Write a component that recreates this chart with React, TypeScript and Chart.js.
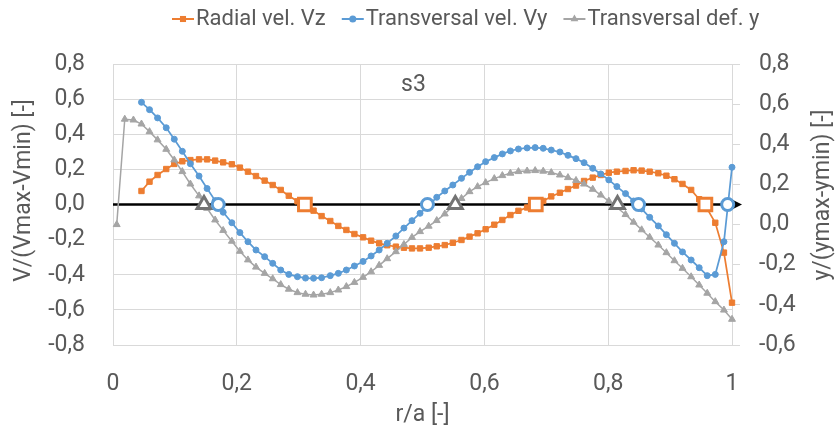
import React, { useEffect, useRef } from "react";
import { Chart, registerables } from "chart.js";

Chart.register(...registerables);

// r/a positions of the computed points
const rA = [
  0.006, 0.019, 0.033, 0.046, 0.059, 0.072, 0.086, 0.099, 0.112, 0.125,
  0.139, 0.152, 0.165, 0.178, 0.192, 0.205, 0.218, 0.231, 0.245, 0.258,
  0.271, 0.284, 0.298, 0.311, 0.324, 0.337, 0.351, 0.364, 0.377, 0.39,
  0.404, 0.417, 0.43, 0.443, 0.457, 0.47, 0.483, 0.496, 0.51, 0.523,
  0.536, 0.549, 0.563, 0.576, 0.589, 0.602, 0.616, 0.629, 0.642, 0.655,
  0.669, 0.682, 0.695, 0.708, 0.722, 0.735, 0.748, 0.761, 0.775, 0.788,
  0.801, 0.814, 0.828, 0.841, 0.854, 0.867, 0.881, 0.894, 0.907, 0.92,
  0.934, 0.947, 0.96, 0.973, 0.987, 1.0,
];

// Radial vel. Vz  (left axis)
const radialVz = [
  null, null, null, 0.077, 0.13, 0.168, 0.202, 0.231, 0.246, 0.253,
  0.257, 0.257, 0.25, 0.24, 0.229, 0.21, 0.187, 0.162, 0.136, 0.111,
  0.083, 0.05, 0.018, -0.008, -0.035, -0.066, -0.094, -0.122, -0.145, -0.168,
  -0.187, -0.206, -0.221, -0.232, -0.24, -0.246, -0.25, -0.25, -0.246, -0.238,
  -0.231, -0.218, -0.202, -0.183, -0.164, -0.141, -0.115, -0.088, -0.06, -0.036,
  -0.017, 0.0, 0.02, 0.046, 0.067, 0.088, 0.108, 0.134, 0.153, 0.168,
  0.181, 0.187, 0.191, 0.195, 0.193, 0.187, 0.178, 0.164, 0.144, 0.117,
  0.083, 0.03, -0.025, -0.104, -0.274, -0.559,
];

// Transversal vel. Vy  (left axis)
const transVy = [
  null, null, null, 0.582, 0.54, 0.493, 0.437, 0.372, 0.303, 0.232,
  0.162, 0.091, 0.022, -0.044, -0.104, -0.16, -0.212, -0.259, -0.297, -0.335,
  -0.373, -0.398, -0.411, -0.419, -0.42, -0.417, -0.405, -0.392, -0.373, -0.35,
  -0.324, -0.293, -0.259, -0.221, -0.179, -0.134, -0.092, -0.05, -0.005, 0.041,
  0.077, 0.111, 0.149, 0.183, 0.215, 0.244, 0.267, 0.288, 0.305, 0.316,
  0.322, 0.324, 0.32, 0.31, 0.299, 0.28, 0.261, 0.238, 0.206, 0.174,
  0.14, 0.102, 0.062, 0.02, -0.025, -0.073, -0.122, -0.172, -0.221, -0.27,
  -0.316, -0.36, -0.405, -0.398, -0.212, 0.212,
];

// Transversal def. y  (right axis)
const transDefY = [
  0.0, 0.525, 0.521, 0.501, 0.463, 0.422, 0.375, 0.322, 0.264, 0.202,
  0.143, 0.081, 0.023, -0.029, -0.083, -0.133, -0.176, -0.212, -0.243, -0.27,
  -0.299, -0.322, -0.339, -0.347, -0.351, -0.347, -0.339, -0.326, -0.309, -0.288,
  -0.263, -0.235, -0.203, -0.17, -0.135, -0.099, -0.064, -0.035, -0.008, 0.02,
  0.053, 0.092, 0.13, 0.164, 0.189, 0.209, 0.229, 0.244, 0.256, 0.264,
  0.267, 0.269, 0.266, 0.259, 0.247, 0.234, 0.22, 0.202, 0.176, 0.147,
  0.117, 0.085, 0.05, 0.012, -0.026, -0.063, -0.102, -0.14, -0.18, -0.218,
  -0.26, -0.301, -0.342, -0.384, -0.426, -0.472,
];

// zero-crossing markers (r/a)
const vzZeros = [0.31, 0.683, 0.957];
const vyZeros = [0.17, 0.508, 0.849, 0.993];
const defZeros = [0.147, 0.553, 0.815];

const seriesLabels = ["Radial vel. Vz", "Transversal vel. Vy", "Transversal def. y"];
const chartTitle = "s3";
const xTitle = "r/a [-]";
const yLeftTitle = "V/(Vmax-Vmin) [-]";
const yRightTitle = "y/(ymax-ymin) [-]";

const ORANGE = "#ED7D31";
const BLUE = "#5B9BD5";
const GRAY = "#A5A5A5";
const DARKGRAY = "#737373";
const TEXT = "#595959";
const GRID = "#D9D9D9";
const FONT = "Roboto";

function commaFixed(v: number, d: number) {
  const r = Math.abs(v) < 1e-9 ? 0 : v;
  return r.toFixed(d).replace(".", ",");
}

function toPoints(xs: number[], ys: (number | null)[]) {
  return xs
    .map((x, i) => ({ x, y: ys[i] }))
    .filter((p) => p.y !== null && p.y !== undefined);
}

function drawSymbol(ctx: CanvasRenderingContext2D, style: string, x: number, y: number, r: number, color: string) {
  ctx.fillStyle = color;
  ctx.beginPath();
  if (style === "rect") {
    const s = r * Math.SQRT1_2;
    ctx.rect(x - s, y - s, 2 * s, 2 * s);
  } else if (style === "triangle") {
    let rad = 0;
    ctx.moveTo(x + Math.sin(rad) * r, y - Math.cos(rad) * r);
    rad += (2 * Math.PI) / 3;
    ctx.lineTo(x + Math.sin(rad) * r, y - Math.cos(rad) * r);
    rad += (2 * Math.PI) / 3;
    ctx.lineTo(x + Math.sin(rad) * r, y - Math.cos(rad) * r);
    ctx.closePath();
  } else {
    ctx.arc(x, y, r, 0, Math.PI * 2);
  }
  ctx.fill();
}

const decorPlugin = {
  id: "decor",
  beforeDatasetsDraw(chart: any) {
    const { ctx, chartArea: a, scales } = chart;
    const y0 = scales.y.getPixelForValue(0);
    ctx.save();
    ctx.strokeStyle = "#000";
    ctx.lineWidth = 2.6;
    ctx.beginPath();
    ctx.moveTo(a.left, y0);
    ctx.lineTo(a.right + 3, y0);
    ctx.stroke();
    ctx.fillStyle = "#000";
    ctx.beginPath();
    ctx.moveTo(a.right + 1, y0 - 4.5);
    ctx.lineTo(a.right + 10, y0);
    ctx.lineTo(a.right + 1, y0 + 4.5);
    ctx.closePath();
    ctx.fill();
    ctx.restore();
  },
  afterDraw(chart: any) {
    const { ctx, chartArea: a } = chart;
    ctx.save();
    ctx.fillStyle = TEXT;
    ctx.textBaseline = "middle";

    // legend
    ctx.font = `22px ${FONT}`;
    let lx = 172;
    const ly = 19;
    for (let i = 0; i < 3; i++) {
      const ds = chart.data.datasets[i];
      ctx.strokeStyle = ds.borderColor;
      ctx.lineWidth = 2;
      ctx.beginPath();
      ctx.moveTo(lx, ly);
      ctx.lineTo(lx + 22, ly);
      ctx.stroke();
      drawSymbol(ctx, ds.pointStyle, lx + 11, ly, ds.pointRadius + 0.5, ds.borderColor);
      ctx.fillStyle = TEXT;
      ctx.textAlign = "left";
      ctx.fillText(ds.label, lx + 24, ly);
      lx += 24 + ctx.measureText(ds.label).width + 16;
    }

    ctx.font = `23px ${FONT}`;
    // chart title inside plot
    ctx.textAlign = "center";
    ctx.fillText(chartTitle, (a.left + a.right) / 2 - 9, a.top + 21);

    // left axis title
    ctx.save();
    ctx.translate(24, a.top + (a.bottom - a.top) * 0.45);
    ctx.rotate(-Math.PI / 2);
    ctx.fillText(yLeftTitle, 0, 0);
    ctx.restore();

    // right axis title
    ctx.save();
    ctx.translate(823, a.top + (a.bottom - a.top) * 0.466);
    ctx.rotate(-Math.PI / 2);
    ctx.fillText(yRightTitle, 0, 0);
    ctx.restore();

    ctx.restore();
  },
};

export default function App() {
  const canvasRef = useRef<HTMLCanvasElement | null>(null);

  useEffect(() => {
    const canvas = canvasRef.current;
    if (!canvas) return;
    Chart.defaults.font.family = FONT;
    const chart = new Chart(canvas, {
      type: "scatter",
      data: {
        datasets: [
          {
            label: seriesLabels[0],
            data: toPoints(rA, radialVz),
            yAxisID: "y",
            showLine: true,
            borderColor: ORANGE,
            backgroundColor: ORANGE,
            borderWidth: 1.75,
            pointStyle: "rect",
            pointRadius: 3.8,
            pointBorderWidth: 1,
            pointBorderColor: ORANGE,
            pointBackgroundColor: ORANGE,
            tension: 0,
            order: 3,
            clip: false,
          },
          {
            label: seriesLabels[1],
            data: toPoints(rA, transVy),
            yAxisID: "y",
            showLine: true,
            borderColor: BLUE,
            backgroundColor: BLUE,
            borderWidth: 1.75,
            pointStyle: "circle",
            pointRadius: 3,
            pointBorderWidth: 1,
            pointBorderColor: BLUE,
            pointBackgroundColor: BLUE,
            tension: 0,
            order: 2,
            clip: false,
          },
          {
            label: seriesLabels[2],
            data: toPoints(rA, transDefY),
            yAxisID: "y1",
            showLine: true,
            borderColor: GRAY,
            backgroundColor: GRAY,
            borderWidth: 1.5,
            pointStyle: "triangle",
            pointRadius: 4,
            pointBorderWidth: 1,
            pointBorderColor: GRAY,
            pointBackgroundColor: GRAY,
            tension: 0,
            order: 1,
            clip: false,
          },
          {
            label: "zeros Vz",
            data: vzZeros.map((x) => ({ x, y: 0 })),
            yAxisID: "y",
            showLine: false,
            pointStyle: "rect",
            pointRadius: 9,
            pointBorderWidth: 3,
            pointBorderColor: ORANGE,
            pointBackgroundColor: "#FFFFFF",
            order: 0,
            clip: false,
          },
          {
            label: "zeros Vy",
            data: vyZeros.map((x) => ({ x, y: 0 })),
            yAxisID: "y",
            showLine: false,
            pointStyle: "circle",
            pointRadius: 6,
            pointBorderWidth: 3,
            pointBorderColor: BLUE,
            pointBackgroundColor: "#FFFFFF",
            order: 0,
            clip: false,
          },
          {
            label: "zeros y",
            data: defZeros.map((x) => ({ x, y: 0 })),
            yAxisID: "y",
            showLine: false,
            pointStyle: "triangle",
            pointRadius: 8,
            pointBorderWidth: 3,
            pointBorderColor: DARKGRAY,
            pointBackgroundColor: "#FFFFFF",
            order: 0,
            clip: false,
          },
        ],
      },
      options: {
        responsive: false,
        animation: false,
        devicePixelRatio: 1,
        layout: { padding: { top: 64, left: 0, right: 0, bottom: 0 } },
        plugins: {
          legend: { display: false },
          tooltip: { enabled: false },
          title: { display: false },
        },
        scales: {
          x: {
            type: "linear",
            position: "bottom",
            min: 0,
            max: 1,
            ticks: {
              stepSize: 0.2,
              color: TEXT,
              font: { size: 23, family: FONT },
              padding: 25,
              maxRotation: 0,
              callback: (v: any) => {
                const n = Number(v);
                if (Math.abs(n) < 1e-9) return "0";
                if (Math.abs(n - 1) < 1e-9) return "1";
                return commaFixed(n, 1);
              },
            },
            grid: { color: GRID, lineWidth: 1, drawTicks: false },
            border: { color: GRID, width: 1 },
            title: {
              display: true,
              text: xTitle,
              color: TEXT,
              font: { size: 23, family: FONT },
              padding: { top: 0, bottom: 5 },
            },
            afterFit: (s: any) => {
              s.height = 89;
            },
          },
          y: {
            type: "linear",
            position: "left",
            min: -0.8,
            max: 0.8,
            ticks: {
              stepSize: 0.2,
              color: TEXT,
              font: { size: 23, family: FONT },
              padding: 28,
              callback: (v: any) => commaFixed(Number(v), 1),
            },
            grid: { color: GRID, lineWidth: 1, drawTicks: false },
            border: { color: GRID, width: 1 },
            afterFit: (s: any) => {
              s.width = 113;
            },
          },
          y1: {
            type: "linear",
            position: "right",
            min: -0.6,
            max: 0.8,
            ticks: {
              stepSize: 0.2,
              color: TEXT,
              font: { size: 23, family: FONT },
              padding: 19,
              callback: (v: any) => commaFixed(Number(v), 1),
            },
            grid: {
              drawOnChartArea: false,
              drawTicks: true,
              tickLength: 8,
              tickColor: GRID,
              color: GRID,
            },
            border: { color: GRID, width: 1 },
            afterFit: (s: any) => {
              s.width = 108;
            },
          },
        },
      },
      plugins: [decorPlugin],
    } as any);
    return () => {
      chart.destroy();
    };
  }, []);

  return (
    <div style={{ position: "absolute", left: 0, top: 0, width: 840, height: 434, background: "#fff" }}>
      <canvas ref={canvasRef} width={840} height={434} style={{ display: "block" }} />
    </div>
  );
}
